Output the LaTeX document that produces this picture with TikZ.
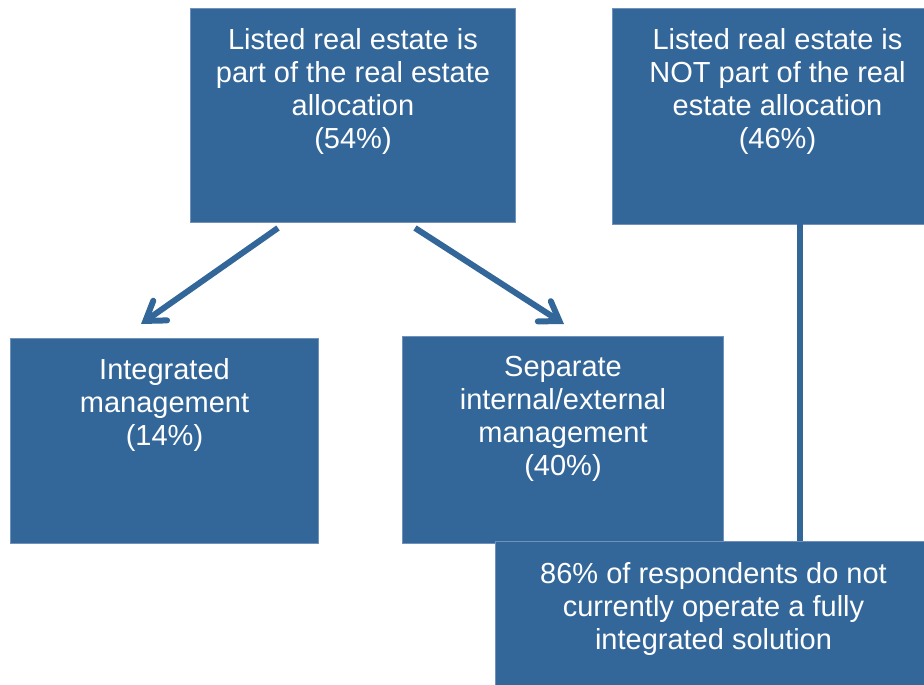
\documentclass[tikz,border=0pt]{standalone}
\usepackage{fontspec}
\setmainfont{Liberation Sans}
\usetikzlibrary{arrows.meta}
\definecolor{boxblue}{RGB}{52,103,153}
\definecolor{boxedge}{RGB}{112,146,186}
\begin{document}
\begin{tikzpicture}[x=0.5pt,y=-0.5pt,
  box/.style={rectangle, anchor=north west, fill=boxblue, draw=boxedge, line width=0.5pt, inner sep=0pt},
  lbl/.style={anchor=north, inner sep=0pt, align=center, text=white,
    font=\fontsize{14.5pt}{16.5pt}\selectfont},
  conn/.style={draw=boxblue, line width=3pt},
  arr/.style={conn, -{Straight Barb[length=9pt,width=12pt,line cap=round]}}]
\clip (0,0) rectangle (924,684);
\useasboundingbox (0,0) rectangle (924,684);
% boxes
\node[box, minimum width=162.5pt, minimum height=107pt] (A) at (190,8) {};
\node[box, minimum width=165pt, minimum height=108pt] (B) at (612,8) {};
\node[box, minimum width=154pt, minimum height=102.5pt] (C) at (10,338) {};
\node[box, minimum width=160.5pt, minimum height=103.5pt] (D) at (402,336) {};
% connector from B down to E
\coordinate (b1) at (800,224);
\coordinate (e1) at (800,542);
\draw[conn] (b1) -- (e1);
\node[box, minimum width=218pt, minimum height=80pt] (E) at (495,541) {};
% labels
\node[lbl] (At) at ([yshift=-10pt]A.north) {Listed real estate is\\part of the real estate\\allocation\\(54\%)};
\node[lbl] (Bt) at ([yshift=-10pt]B.north) {Listed real estate is\\NOT part of the real\\estate allocation\\(46\%)};
\node[lbl] (Ct) at ([yshift=-10pt]C.north) {Integrated\\management\\(14\%)};
\node[lbl] (Dt) at ([yshift=-10pt]D.north) {Separate\\internal/external\\management\\(40\%)};
\node[lbl] (Et) at ([yshift=-10.5pt]E.north) {86\% of respondents do not\\currently operate a fully\\integrated solution};
% arrows
\coordinate (a1) at (278,228);
\coordinate (c1) at (141,324);
\coordinate (a2) at (415,228);
\coordinate (d1) at (564,324);
\draw[arr] (a1) -- (c1);
\draw[arr] (a2) -- (d1);
\end{tikzpicture}
\end{document}
